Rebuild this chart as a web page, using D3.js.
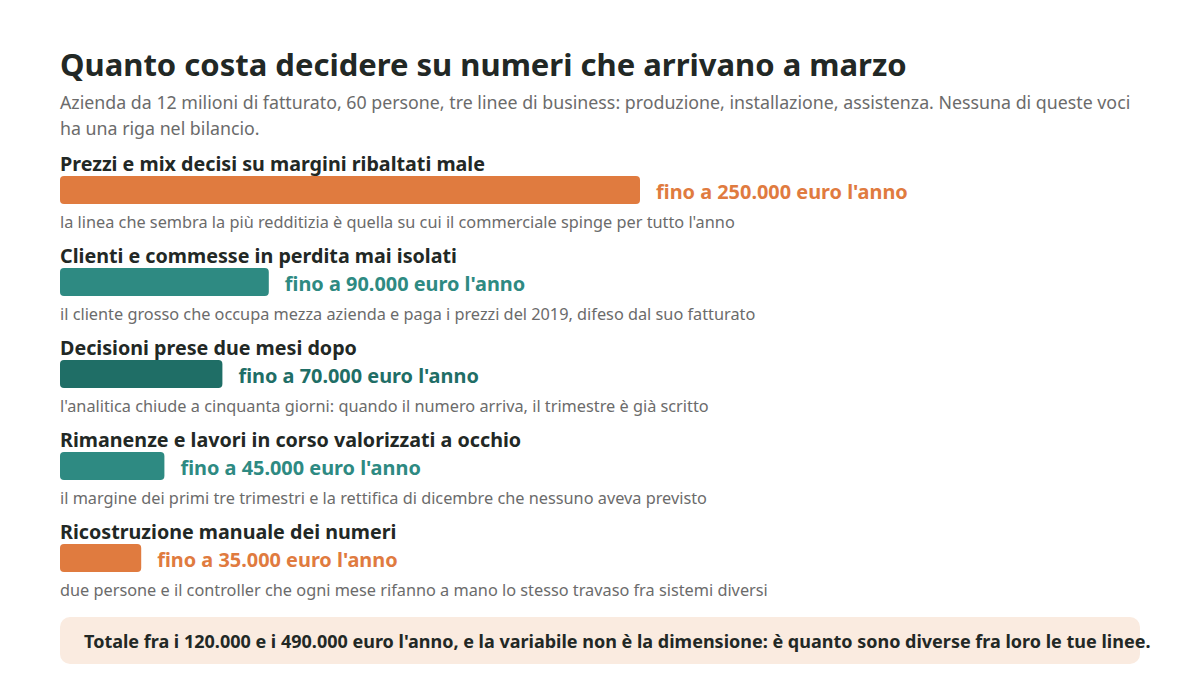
<!DOCTYPE html>
<html><head><meta charset="utf-8">
<script src="https://cdn.jsdelivr.net/npm/d3@7"></script>
<style>body{margin:0;background:#fff}svg{display:block}</style>
</head><body><svg id="c" width="1200" height="686"></svg>
<script>
const titleText = "Quanto costa decidere su numeri che arrivano a marzo";
const subtitleLines = [
  "Azienda da 12 milioni di fatturato, 60 persone, tre linee di business: produzione, installazione, assistenza. Nessuna di queste voci",
  "ha una riga nel bilancio."
];
const categories = [
  "Prezzi e mix decisi su margini ribaltati male",
  "Clienti e commesse in perdita mai isolati",
  "Decisioni prese due mesi dopo",
  "Rimanenze e lavori in corso valorizzati a occhio",
  "Ricostruzione manuale dei numeri"
];
const values = [250000, 90000, 70000, 45000, 35000];
const valueLabels = [
  "fino a 250.000 euro l'anno",
  "fino a 90.000 euro l'anno",
  "fino a 70.000 euro l'anno",
  "fino a 45.000 euro l'anno",
  "fino a 35.000 euro l'anno"
];
const notes = [
  "la linea che sembra la più redditizia è quella su cui il commerciale spinge per tutto l'anno",
  "il cliente grosso che occupa mezza azienda e paga i prezzi del 2019, difeso dal suo fatturato",
  "l'analitica chiude a cinquanta giorni: quando il numero arriva, il trimestre è già scritto",
  "il margine dei primi tre trimestri e la rettifica di dicembre che nessuno aveva previsto",
  "due persone e il controller che ogni mese rifanno a mano lo stesso travaso fra sistemi diversi"
];
const barColors = ["#E07B3F", "#2E8A82", "#1F6E66", "#2E8A82", "#E07B3F"];
const footerText = "Totale fra i 120.000 e i 490.000 euro l'anno, e la variabile non è la dimensione: è quanto sono diverse fra loro le tue linee.";

const FONT = "'Noto Sans', 'Open Sans', sans-serif";
const svg = d3.select("#c");
const left = 60;

svg.append("text").attr("x", left).attr("y", 76)
  .attr("font-family", FONT).attr("font-weight", 700).attr("font-size", 31)
  .attr("fill", "#222825").text(titleText);

svg.selectAll("text.sub").data(subtitleLines).join("text").attr("class", "sub")
  .attr("x", left).attr("y", (d, i) => 109 + i * 26)
  .attr("font-family", FONT).attr("font-size", 17.8).attr("fill", "#6b6b6b").text(d => d);

const x = d3.scaleLinear().domain([0, 250000]).range([left, 640]);
const y = d3.scaleBand().domain(categories).range([155, 155 + 92 * categories.length]);

const rows = svg.selectAll("g.row").data(categories).join("g").attr("class", "row")
  .attr("transform", d => `translate(0,${y(d)})`);

rows.append("text").attr("x", left).attr("y", 16)
  .attr("font-family", FONT).attr("font-weight", 700).attr("font-size", 19.7)
  .attr("fill", "#222825").text(d => d);

rows.append("rect").attr("x", x(0)).attr("y", 21).attr("height", 28).attr("rx", 4)
  .attr("width", (d, i) => x(values[i]) - x(0))
  .attr("fill", (d, i) => barColors[i]);

rows.append("text").attr("x", (d, i) => x(values[i]) + 16).attr("y", 44)
  .attr("font-family", FONT).attr("font-weight", 700).attr("font-size", 19.9)
  .attr("fill", (d, i) => barColors[i]).text((d, i) => valueLabels[i]);

rows.append("text").attr("x", left).attr("y", 73)
  .attr("font-family", FONT).attr("font-size", 16.3)
  .attr("fill", "#6b6b6b").text((d, i) => notes[i]);

svg.append("rect").attr("x", 60).attr("y", 617).attr("width", 1080).attr("height", 47)
  .attr("rx", 10).attr("fill", "#FAEBE0");
svg.append("text").attr("x", 84).attr("y", 648)
  .attr("font-family", FONT).attr("font-weight", 700).attr("font-size", 18)
  .attr("fill", "#222825").text(footerText);
</script></body></html>
